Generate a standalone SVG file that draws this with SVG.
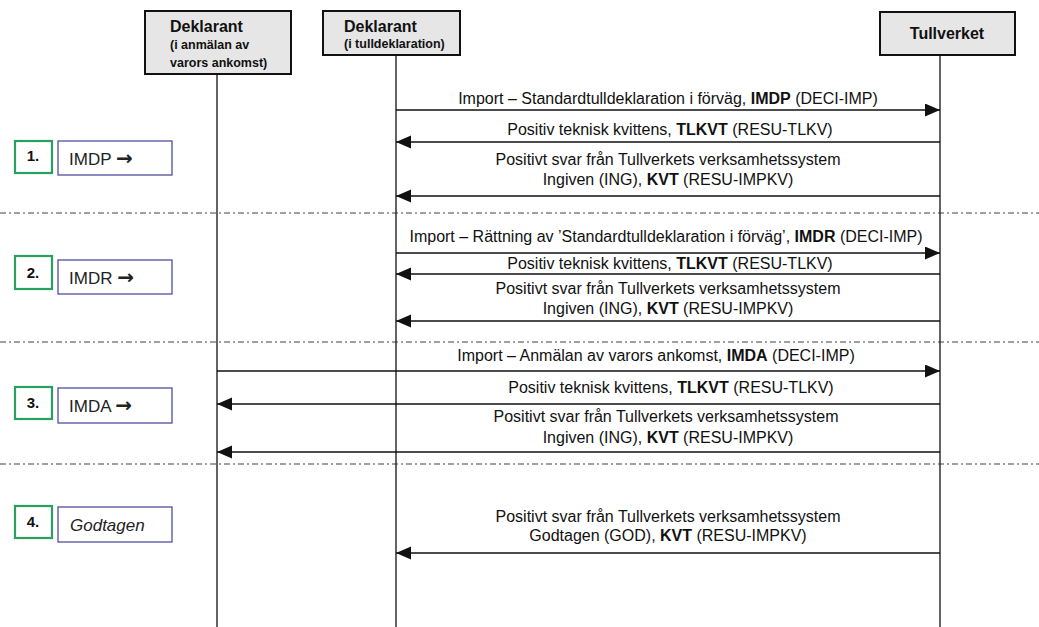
<svg xmlns="http://www.w3.org/2000/svg" width="1039" height="627" viewBox="0 0 1039 627">
<style>
.hdr{fill:#e6e6e6;stroke:#111;stroke-width:2}
.life{stroke:#222;stroke-width:1.4;fill:none}
.msg{stroke:#111;stroke-width:1.3;fill:none;marker-end:url(#ah)}
.sep{stroke:#444;stroke-width:1.2;stroke-dasharray:6 3 2 3;fill:none}
.t{font-family:"Liberation Sans",Arial,sans-serif;font-size:16px;fill:#111;text-anchor:middle}
.b{font-weight:bold}
.h1{font-family:"Liberation Sans",Arial,sans-serif;font-size:16px;font-weight:bold;fill:#111}
.h2{font-family:"Liberation Sans",Arial,sans-serif;font-size:12.5px;font-weight:bold;fill:#111}
.num{fill:#fff;stroke:#27a060;stroke-width:2.2}
.lab{fill:#fff;stroke:#5c5ca8;stroke-width:1.4}
.nt{font-family:"Liberation Sans",Arial,sans-serif;font-size:15px;font-weight:bold;fill:#111;text-anchor:middle}
.lt{font-family:"Liberation Sans",Arial,sans-serif;font-size:17px;fill:#222}
.ar{font-family:"DejaVu Sans",sans-serif;font-size:20px;font-weight:bold}
</style>
<defs>
<marker id="ah" markerUnits="userSpaceOnUse" markerWidth="16" markerHeight="14" refX="15" refY="6.5" orient="auto">
<path d="M0,0 L15,6.5 L0,13 z" fill="#111"/>
</marker>
</defs>
<rect width="1039" height="627" fill="#fff"/>

<g id="separators">
<line class="sep" x1="0" y1="213" x2="1039" y2="213"/>
<line class="sep" x1="0" y1="342" x2="1039" y2="342"/>
<line class="sep" x1="0" y1="464" x2="1039" y2="464"/>
</g>

<g id="lifelines">
<line class="life" x1="217" y1="74" x2="217" y2="627"/>
<line class="life" x1="396" y1="55" x2="396" y2="627"/>
<line class="life" x1="940" y1="55" x2="940" y2="627"/>
</g>

<g id="node-deklarant-ankomst">
<rect class="hdr" x="145" y="11" width="146" height="63"/>
<text class="h1" x="170" y="32">Deklarant</text>
<text class="h2" x="170" y="49">(i anmälan av</text>
<text class="h2" x="170" y="67">varors ankomst)</text>
</g>
<g id="node-deklarant-tull">
<rect class="hdr" x="323" y="11" width="137" height="44"/>
<text class="h1" x="344" y="32">Deklarant</text>
<text class="h2" x="344" y="48">(i tulldeklaration)</text>
</g>
<g id="node-tullverket">
<rect class="hdr" x="880" y="12" width="135" height="43"/>
<text class="h1" x="947" y="39" text-anchor="middle">Tullverket</text>
</g>

<g id="connectors">
<line class="msg" x1="396" y1="110" x2="940" y2="110"/>
<text class="t" x="668" y="104">Import – Standardtulldeklaration i förväg, <tspan class="b">IMDP</tspan> (DECI-IMP)</text>
<line class="msg" x1="940" y1="142" x2="396" y2="142"/>
<text class="t" x="670" y="135">Positiv teknisk kvittens, <tspan class="b">TLKVT</tspan> (RESU-TLKV)</text>
<line class="msg" x1="940" y1="196" x2="396" y2="196"/>
<text class="t" x="668" y="165">Positivt svar från Tullverkets verksamhetssystem</text>
<text class="t" x="668" y="185">Ingiven (ING), <tspan class="b">KVT</tspan> (RESU-IMPKV)</text>

<line class="msg" x1="396" y1="253" x2="940" y2="253"/>
<text class="t" x="666" y="242">Import – Rättning av ’Standardtulldeklaration i förväg’, <tspan class="b">IMDR</tspan> (DECI-IMP)</text>
<line class="msg" x1="940" y1="274" x2="396" y2="274"/>
<text class="t" x="670" y="269">Positiv teknisk kvittens, <tspan class="b">TLKVT</tspan> (RESU-TLKV)</text>
<line class="msg" x1="940" y1="321" x2="396" y2="321"/>
<text class="t" x="668" y="294">Positivt svar från Tullverkets verksamhetssystem</text>
<text class="t" x="668" y="314">Ingiven (ING), <tspan class="b">KVT</tspan> (RESU-IMPKV)</text>

<line class="msg" x1="217" y1="371" x2="940" y2="371"/>
<text class="t" x="656" y="361">Import – Anmälan av varors ankomst, <tspan class="b">IMDA</tspan> (DECI-IMP)</text>
<line class="msg" x1="940" y1="404" x2="217" y2="404"/>
<text class="t" x="671" y="393">Positiv teknisk kvittens, <tspan class="b">TLKVT</tspan> (RESU-TLKV)</text>
<line class="msg" x1="940" y1="452" x2="217" y2="452"/>
<text class="t" x="666" y="422">Positivt svar från Tullverkets verksamhetssystem</text>
<text class="t" x="668" y="443">Ingiven (ING), <tspan class="b">KVT</tspan> (RESU-IMPKV)</text>

<line class="msg" x1="940" y1="553" x2="396" y2="553"/>
<text class="t" x="668" y="522">Positivt svar från Tullverkets verksamhetssystem</text>
<text class="t" x="668" y="541">Godtagen (GOD), <tspan class="b">KVT</tspan> (RESU-IMPKV)</text>
</g>

<g id="step-1">
<rect class="num" x="15" y="141" width="37" height="32"/>
<text class="nt" x="33" y="161">1.</text>
<rect class="lab" x="58" y="141" width="114" height="34"/>
<text class="lt" x="69" y="165">IMDP <tspan class="ar">→</tspan></text>
</g>
<g id="step-2">
<rect class="num" x="15" y="256" width="37" height="33"/>
<text class="nt" x="33" y="278">2.</text>
<rect class="lab" x="58" y="260" width="114" height="34"/>
<text class="lt" x="69" y="284">IMDR <tspan class="ar">→</tspan></text>
</g>
<g id="step-3">
<rect class="num" x="15" y="387" width="37" height="32"/>
<text class="nt" x="33" y="408">3.</text>
<rect class="lab" x="58" y="388" width="114" height="35"/>
<text class="lt" x="69" y="412">IMDA <tspan class="ar">→</tspan></text>
</g>
<g id="step-4">
<rect class="num" x="15" y="506" width="37" height="32"/>
<text class="nt" x="33" y="527">4.</text>
<rect class="lab" x="58" y="507" width="114" height="35"/>
<text class="lt" x="70" y="531" font-style="italic">Godtagen</text>
</g>
</svg>
